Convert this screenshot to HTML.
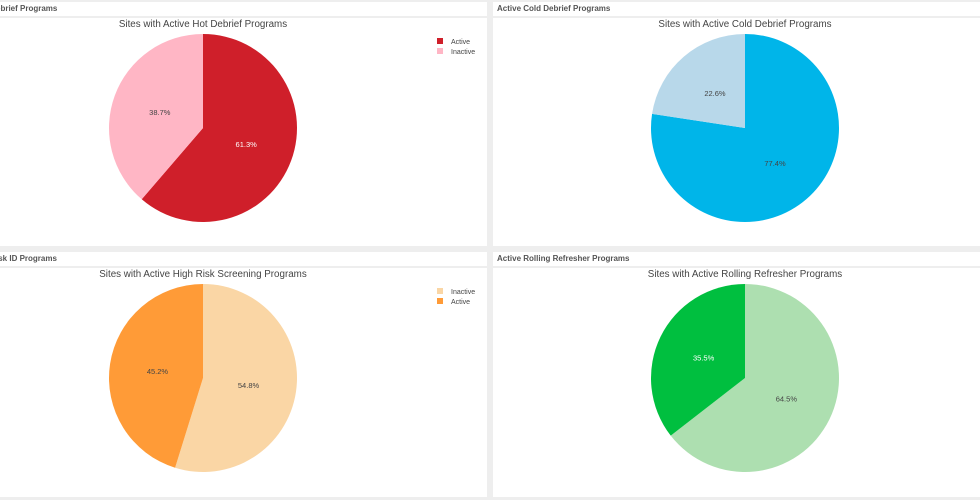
<!DOCTYPE html>
<html><head><meta charset="utf-8"><style>
body{margin:0;width:980px;height:500px;background:#eeeeee;overflow:hidden;font-family:"Liberation Sans",sans-serif;position:relative}
.panel{position:absolute;background:#fff}
.hdr{position:absolute;left:0;right:0;top:0;height:14px;border-bottom:2px solid #eee;font-size:8px;font-weight:bold;color:#555;line-height:14px;padding-left:4px;white-space:nowrap;overflow:hidden}
svg{position:absolute;left:0;top:16px}
</style></head><body>
<div class="panel" style="left:-4px;top:2px;width:491px;height:244px"><div class="hdr" style="padding-left:0">ebrief Programs</div><svg id="p0" width="491" height="228"></svg></div>
<div class="panel" style="left:493px;top:2px;width:487px;height:244px"><div class="hdr">Active Cold Debrief Programs</div><svg id="p1" width="487" height="228"></svg></div>
<div class="panel" style="left:-4px;top:252px;width:491px;height:245px"><div class="hdr" style="padding-left:0">isk ID Programs</div><svg id="p2" width="491" height="229"></svg></div>
<div class="panel" style="left:493px;top:252px;width:487px;height:245px"><div class="hdr">Active Rolling Refresher Programs</div><svg id="p3" width="487" height="229"></svg></div>
<script>
const titles=["Sites with Active Hot Debrief Programs","Sites with Active Cold Debrief Programs","Sites with Active High Risk Screening Programs","Sites with Active Rolling Refresher Programs"];
const labels0=["Active","Inactive"];
const values0=[61.3,38.7];
const labels1=["Active","Inactive"];
const values1=[77.4,22.6];
const labels2=["Inactive","Active"];
const values2=[54.8,45.2];
const labels3=["Inactive","Active"];
const values3=[64.5,35.5];
const colors=[["#cf1f2a","#ffb6c5"],["#00b5e9","#b8d8ea"],["#fad6a5","#ff9b37"],["#addfb0","#00bf3f"]];
const textCol=[["#fff","#444"],["#444","#444"],["#444","#444"],["#444","#fff"]];
const showLegend=[true,false,true,false];
const cx=[207,252,207,252];
const allL=[labels0,labels1,labels2,labels3],allV=[values0,values1,values2,values3];
const NS="http://www.w3.org/2000/svg";
function mk(t,a,p){const e=document.createElementNS(NS,t);for(const k in a)e.setAttribute(k,a[k]);p.appendChild(e);return e;}
for(let i=0;i<4;i++){
 const s=document.getElementById('p'+i);
 const t=mk('text',{x:cx[i],y:9,'text-anchor':'middle','font-size':'9.8','fill':'#444'},s);t.textContent=titles[i];
 
 
 const vals=allV[i],labs=allL[i],tot=vals.reduce((a,b)=>a+b,0);
 const cy=110,r=94;let a0=0;
 vals.forEach((v,j)=>{
  const a1=a0+v/tot*2*Math.PI;
  const p=(a)=>[cx[i]+r*Math.sin(a),cy-r*Math.cos(a)];
  const [x0,y0]=p(a0),[x1,y1]=p(a1);
  const path=mk('path',{d:`M${cx[i]},${cy}L${x0},${y0}A${r},${r} 0 ${a1-a0>Math.PI?1:0} 1 ${x1},${y1}Z`,fill:colors[i][j]},s);
  
  
  const am=(a0+a1)/2;
  const tx=mk('text',{x:cx[i]+0.49*r*Math.sin(am),y:cy-0.49*r*Math.cos(am)+3,'text-anchor':'middle','font-size':'7.5',fill:textCol[i][j]},s);
  tx.textContent=v.toFixed(1)+'%';
  
  
  a0=a1;
 });
 if(showLegend[i]){
  labs.forEach((l,j)=>{
   const g=mk('g',{},s);
   
   
   mk('rect',{x:441,y:20+j*10,width:6,height:6,fill:colors[i][j]},g);
   const lt=mk('text',{x:455,y:26+j*10,'font-size':'7',fill:'#444'},g);lt.textContent=l;
  });
 }
}
</script>
</body></html>
